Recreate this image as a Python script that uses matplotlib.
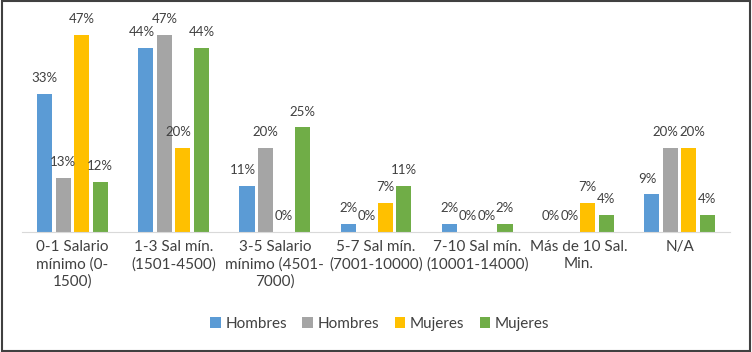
import numpy as np
import matplotlib.pyplot as plt
from matplotlib.patches import Rectangle

plt.rcParams['font.family'] = ['Lato', 'DejaVu Sans']

categories = ["0-1 Salario\nmínimo (0-\n1500)", "1-3 Sal mín.\n(1501-4500)",
              "3-5 Salario\nmínimo (4501-\n7000)", "5-7 Sal mín.\n(7001-10000)",
              "7-10 Sal mín.\n(10001-14000)", "Más de 10 Sal.\nMin.", "N/A"]

series_names = ["Hombres", "Hombres", "Mujeres", "Mujeres"]
hombres_a = [33, 44, 11, 2, 2, 0, 9]
hombres_b = [13, 47, 20, 0, 0, 0, 20]
mujeres_a = [47, 20, 0, 7, 0, 7, 20]
mujeres_b = [12, 44, 25, 11, 2, 4, 4]

colors = ["#5B9BD5", "#A5A5A5", "#FFC000", "#70AD47"]
TEXT = "#404040"

# small sideways nudges (points) for crowded labels: (series, category) -> dx
nudge = {(0, 1): -3, (2, 1): -3, (0, 2): -3, (0, 6): -3, (1, 6): -4, (2, 6): 3}

fig = plt.figure(figsize=(7.52, 3.52), dpi=100)
ax = fig.add_axes([0.029, 0.341, 0.942, 0.595])

x = np.arange(len(categories))
width = 0.15
offsets = [-0.275, -0.09, 0.09, 0.275]

for i, (vals, name, col, off) in enumerate(zip([hombres_a, hombres_b, mujeres_a, mujeres_b],
                                               series_names, colors, offsets)):
    bars = ax.bar(x + off, vals, width, color=col, label=name)
    for j, (b, v) in enumerate(zip(bars, vals)):
        ax.annotate("%d%%" % v, (b.get_x() + b.get_width() / 2, v),
                    xytext=(nudge.get((i, j), 0), 7), textcoords="offset points",
                    ha="center", va="bottom", fontsize=9.5, color=TEXT)

ax.set_xlim(-0.5, len(categories) - 0.5)
ax.set_ylim(0, 50)
ax.set_yticks([])
ax.set_xticks(x)
ax.set_xticklabels(categories, fontsize=11, color=TEXT, linespacing=1.25)
ax.tick_params(axis="x", length=0, pad=6)
for s in ["top", "right", "left"]:
    ax.spines[s].set_visible(False)
ax.spines["bottom"].set_color("#D9D9D9")

fig.legend(loc="center", bbox_to_anchor=(0.505, 0.08), ncol=4, frameon=False,
           fontsize=11, handlelength=0.7, handleheight=0.7, handletextpad=0.3,
           columnspacing=1.0, labelcolor=TEXT)

fig.patches.append(Rectangle((0.002, 0.004), 0.995, 0.992, transform=fig.transFigure,
                             fill=False, edgecolor="#404040", linewidth=1.5))

fig.savefig("out.png", dpi=100)
